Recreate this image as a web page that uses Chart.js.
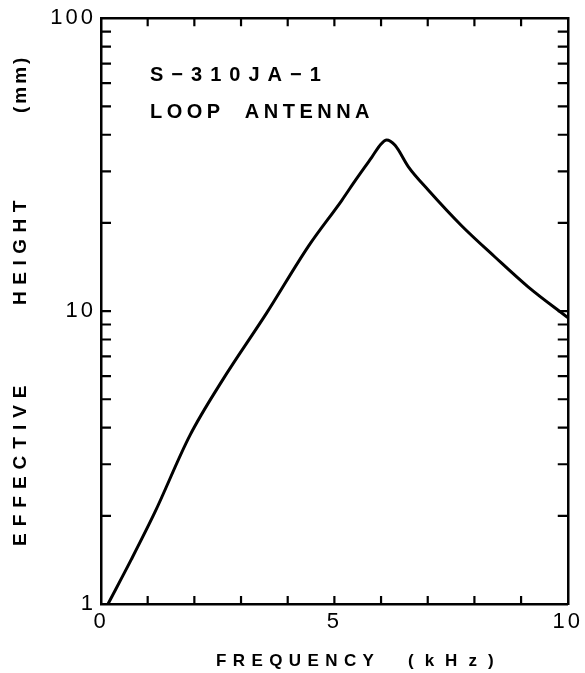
<!DOCTYPE html>
<html>
<head>
<meta charset="utf-8">
<script src="https://cdn.jsdelivr.net/npm/chart.js@4/dist/chart.umd.min.js"></script>
<style>
  html, body { margin: 0; background: #fff; }
  #wrap { width: 585px; height: 673px; }
</style>
</head>
<body>
<div id="wrap"><canvas id="chart"></canvas></div>
<script>
// S-310JA-1 loop antenna: effective height vs frequency (log y)
const freqKHz  = [0.15, 0.65, 1.15, 1.9, 2.6, 3.54, 4.46, 5.16, 5.42, 5.8, 6.0, 6.12, 6.3, 6.59, 7.01, 7.72, 8.44, 9.15, 10.0];
const heightMm = [1.0, 1.42, 2.05, 3.75, 5.8, 9.8, 16.8, 23.9, 27.5, 33.5, 37.2, 38.4, 36.8, 31.0, 25.9, 19.6, 15.3, 12.1, 9.5];

const xTickLabels = [0, 5, 10];
const yTickLabels = [1, 10, 100];
const xMinorTicks = [1, 2, 3, 4, 5, 6, 7, 8, 9];
const yMinorTicks = [2, 3, 4, 5, 6, 7, 8, 9, 10, 20, 30, 40, 50, 60, 70, 80, 90];

const FONT = '"Liberation Sans", Arial, sans-serif';

function spacedText(ctx, text, x, y, size, spacing) {
  ctx.save();
  ctx.font = `bold ${size}px ${FONT}`;
  ctx.letterSpacing = `${spacing}px`;
  ctx.fillStyle = '#000';
  ctx.textAlign = 'left';
  ctx.textBaseline = 'middle';
  ctx.fillText(text, x, y);
  ctx.restore();
}

// inward tick marks on all four sides, placed through the scales
const frameTicks = {
  id: 'frameTicks',
  beforeDraw(chart) {
    chart.ctx.letterSpacing = '3px';
  },
  afterDraw(chart) {
    const { ctx, chartArea: a } = chart;
    const x = chart.scales.x, y = chart.scales.y;
    ctx.save();
    ctx.letterSpacing = '0px';
    ctx.strokeStyle = '#000';
    ctx.lineWidth = 2.2;
    ctx.beginPath();
    xMinorTicks.forEach((v) => {
      const px = x.getPixelForValue(v);
      ctx.moveTo(px, a.bottom); ctx.lineTo(px, a.bottom - 8);
      ctx.moveTo(px, a.top); ctx.lineTo(px, a.top + 8);
    });
    yMinorTicks.forEach((v) => {
      const py = y.getPixelForValue(v);
      ctx.moveTo(a.left, py); ctx.lineTo(a.left + 10, py);
      ctx.moveTo(a.right, py); ctx.lineTo(a.right - 10, py);
    });
    ctx.stroke();
    ctx.restore();

    // titles and notes
    spacedText(ctx, 'S\u2212310JA\u22121', 150, 75, 20, 8);
    spacedText(ctx, 'LOOP  ANTENNA', 150, 112, 20, 4.5);
    spacedText(ctx, 'FREQUENCY', 216, 661, 17, 6.4);
    spacedText(ctx, '(kHz)', 408, 661, 17, 11);
    ctx.save();
    ctx.translate(21, 546);
    ctx.rotate(-Math.PI / 2);
    spacedText(ctx, 'EFFECTIVE', 0, 0, 19, 7);
    spacedText(ctx, 'HEIGHT', 241, 0, 19, 6.5);
    spacedText(ctx, '(mm)', 433, 0, 19, 3);
    ctx.restore();
  },
};

const tickFont = { family: FONT, size: 22 };

new Chart(document.getElementById('chart'), {
  type: 'line',
  data: {
    datasets: [{
      data: freqKHz.map((f, i) => ({ x: f, y: heightMm[i] })),
      borderColor: '#000',
      borderWidth: 3,
      pointRadius: 0,
      cubicInterpolationMode: 'monotone',
      fill: false,
    }],
  },
  options: {
    responsive: true,
    maintainAspectRatio: false,
    animation: false,
    layout: { padding: 0 },
    plugins: { legend: { display: false }, tooltip: { enabled: false } },
    scales: {
      x: {
        type: 'linear', position: 'bottom', min: 0, max: 10,
        afterBuildTicks: (s) => { s.ticks = xTickLabels.map((v) => ({ value: v })); },
        afterFit: (s) => { s.height = 69; },
        ticks: { font: tickFont, color: '#000', padding: 5, maxRotation: 0, callback: (v) => String(v) },
        grid: { display: false, drawTicks: false },
        border: { display: true, color: '#000', width: 2.5 },
      },
      x2: {
        type: 'linear', position: 'top', min: 0, max: 10,
        afterFit: (s) => { s.height = 18; },
        ticks: { display: false },
        grid: { display: false, drawTicks: false },
        border: { display: true, color: '#000', width: 2.5 },
      },
      y: {
        type: 'logarithmic', position: 'left', min: 1, max: 100,
        afterBuildTicks: (s) => { s.ticks = yTickLabels.map((v) => ({ value: v })); },
        afterFit: (s) => { s.width = 101; },
        ticks: { font: tickFont, color: '#000', padding: 5, callback: (v) => String(v) },
        grid: { display: false, drawTicks: false },
        border: { display: true, color: '#000', width: 2.5 },
      },
      y2: {
        type: 'logarithmic', position: 'right', min: 1, max: 100,
        afterFit: (s) => { s.width = 15; },
        ticks: { display: false },
        grid: { display: false, drawTicks: false },
        border: { display: true, color: '#000', width: 2.5 },
      },
    },
  },
  plugins: [frameTicks],
});
</script>
</body>
</html>
